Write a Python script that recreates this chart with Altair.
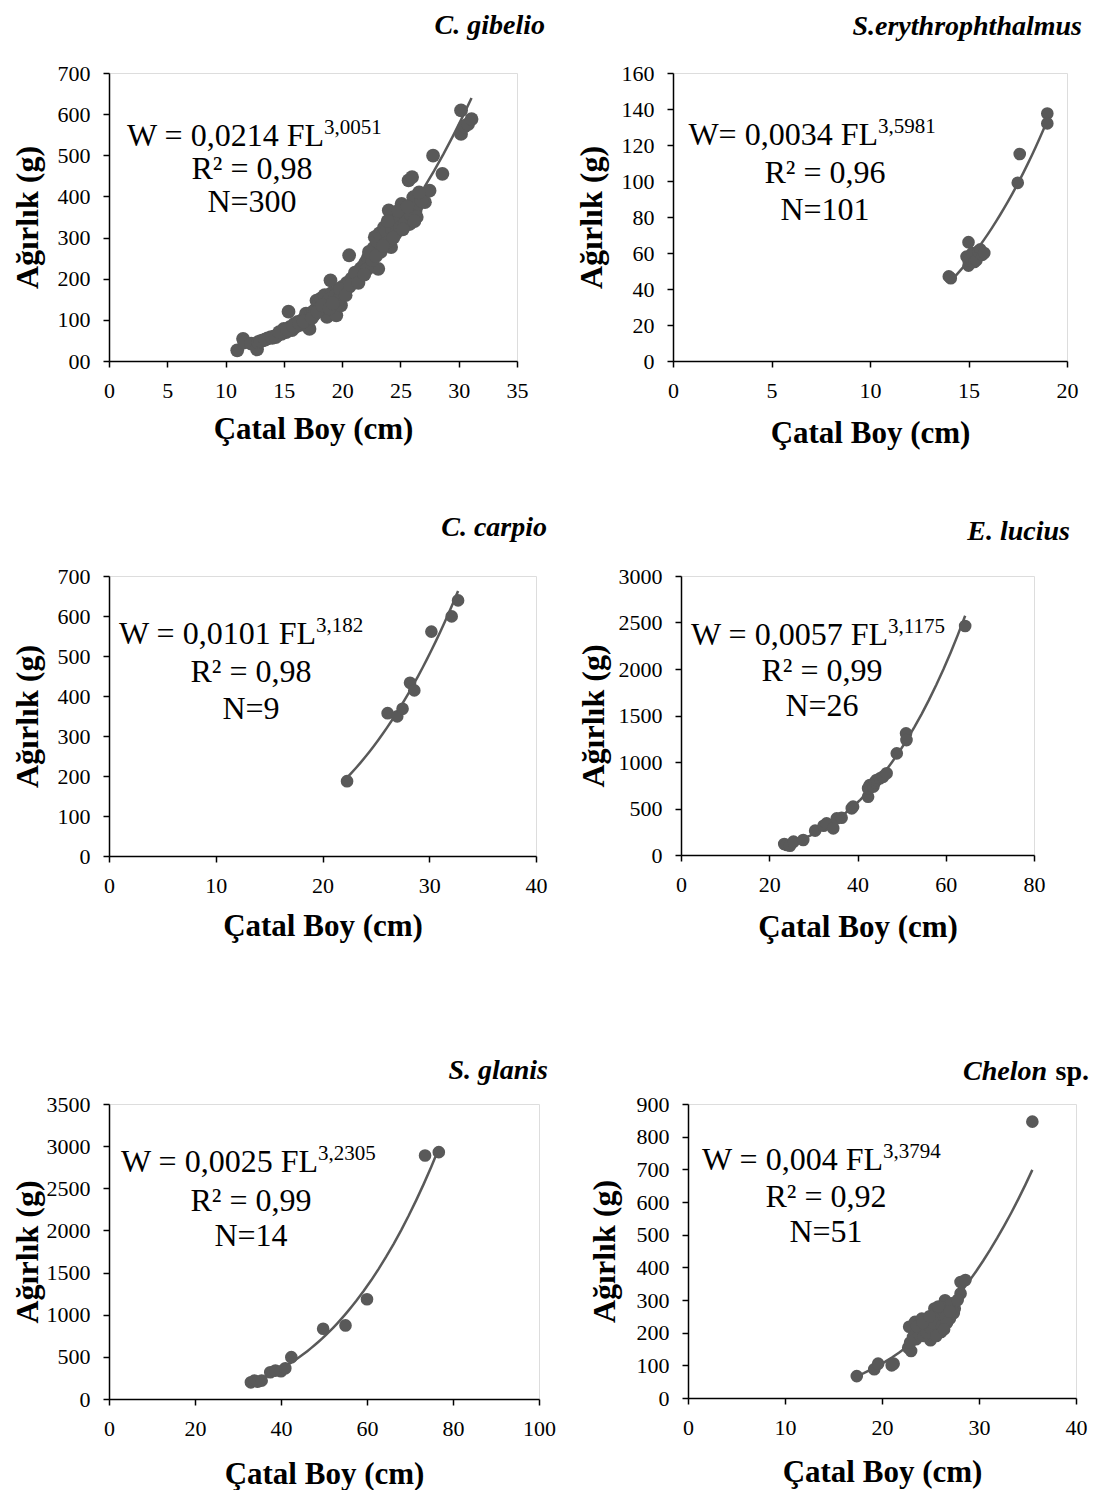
import altair as alt
import pandas as pd

FONT = "Liberation Serif"
GREY = "#595959"

# ---------------- data ----------------
GIB_L = [11.0, 11.5, 11.6, 12.2, 12.7, 12.8, 13.2, 13.6, 13.9, 14.2, 14.5, 14.8, 14.9, 15.0, 15.2,
         15.4, 15.5, 15.7, 15.9, 16.0, 16.2, 16.4, 16.6, 16.8, 16.9, 17.0, 17.2, 17.3, 17.5, 17.7,
         17.8, 18.0, 18.2, 18.4, 18.5, 18.7, 18.8, 19.0, 19.1, 19.3, 19.5, 19.6, 19.8, 19.9, 20.0,
         20.2, 20.4, 20.6, 20.6, 20.8, 21.0, 21.2, 21.5, 21.6, 21.8, 22.0, 22.2, 22.4, 22.5, 22.7,
         22.8, 23.0, 23.1, 23.2, 23.4, 23.6, 23.8, 24.0, 24.2, 24.3, 24.5, 24.7, 24.9, 25.1, 25.3,
         25.5, 25.7, 25.8, 26.0, 26.1, 26.3, 26.5, 27.1, 27.5, 27.8, 28.6, 30.2, 30.2, 30.5, 30.8,
         31.1,
         13.0, 13.4, 14.0, 14.4, 14.7, 15.1, 15.6, 16.1, 16.5, 17.1, 17.6, 18.1, 18.6, 18.9, 19.4,
         19.7, 20.1, 20.5, 20.9, 21.3, 21.7, 22.1, 22.6, 23.3, 23.7, 24.1, 24.6, 25.0, 25.4, 25.9,
         26.4, 26.8,
         14.3, 14.6, 15.3, 15.8, 16.3, 16.7, 17.4, 17.9, 18.3, 18.9, 19.2, 19.8, 20.3, 20.7, 21.1,
         21.4, 21.9, 22.3, 22.9, 23.5, 23.9, 24.4, 24.8, 25.2, 25.6, 26.2, 26.6]
GIB_W = [26, 54, 45, 42, 28, 46, 50, 55, 58, 60, 64, 66, 72, 78, 70,
         120, 82, 75, 90, 83, 95, 88, 100, 105, 115, 92, 78, 110, 120, 125,
         147, 140, 152, 130, 160, 107, 145, 196, 165, 150, 111, 170, 160, 135, 180,
         175, 190, 257, 180, 200, 195, 210, 204, 225, 230, 240, 250, 228, 260, 275,
         301, 290, 224, 310, 300, 325, 315, 366, 277, 320, 340, 330, 350, 382, 360,
         345, 439, 333, 447, 398, 366, 380, 386, 414, 499, 455, 609, 552, 570, 576,
         588,
         48, 52, 56, 62, 68, 74, 80, 86, 94, 98, 112, 128, 138, 150, 158,
         150, 168, 185, 192, 200, 215, 222, 245, 265, 285, 295, 310, 325, 335, 355,
         350, 390,
         58, 70, 76, 85, 92, 96, 104, 120, 135, 128, 140, 175, 160, 185, 215,
         190, 210, 265, 255, 280, 340, 300, 365, 320, 375, 340, 410]

ERY_L = [14.0, 14.1, 14.9, 15.0, 15.0, 15.0, 15.1, 15.2, 15.3, 15.4, 15.5, 15.6, 15.7, 15.8,
         17.5, 17.6, 19.0, 19.0]
ERY_W = [47, 46, 58, 66, 53, 56, 57, 60, 55, 56, 61, 62, 59, 60, 99, 115, 137.5, 132]

CAR_L = [22.3, 26.1, 27.0, 27.5, 28.2, 28.6, 30.2, 32.1, 32.7]
CAR_W = [187, 357, 349, 368, 433, 414, 561, 599, 639]

LUC_L = [23.4, 24.0, 24.7, 25.5, 27.7, 30.4, 32.3, 33.0, 34.5, 35.3, 36.4, 38.7, 39.0, 42.4,
         42.4, 42.8, 43.6, 44.0, 44.3, 45.1, 45.8, 46.6, 48.9, 51.0, 51.1, 64.4]
LUC_W = [118, 108, 100, 143, 161, 262, 315, 340, 287, 394, 401, 502, 520, 627,
         717, 753, 735, 785, 806, 824, 842, 878, 1093, 1308, 1236, 2462]

GLA_L = [33.0, 33.8, 34.6, 35.5, 37.5, 38.7, 40.0, 41.0, 42.4, 49.8, 55.0, 60.0, 73.5, 76.7]
GLA_W = [198, 218, 206, 218, 317, 337, 329, 365, 496, 833, 873, 1183, 2889, 2929]

CHE_L = [17.4, 19.2, 19.6, 21.2, 21.0, 22.7, 23.0, 22.8, 23.4, 23.2, 23.9, 24.1, 25.0, 25.4,
         25.9, 26.1, 26.5, 27.0, 27.5, 28.1, 28.1, 28.6, 35.5,
         24.5, 24.8, 25.2, 25.5, 25.7, 26.0, 26.3, 26.6, 26.8, 27.2, 23.5, 24.0, 24.3, 24.6,
         25.0, 25.3, 25.6, 26.2, 26.7, 27.4, 22.9, 23.6, 24.2, 24.9, 25.8, 26.4, 27.0, 27.8]
CHE_W = [67, 88, 105, 105, 100, 154, 144, 218, 233, 187, 202, 243, 177, 274,
         228, 202, 299, 243, 274, 320, 355, 361, 846,
         220, 230, 210, 250, 240, 260, 270, 250, 280, 290, 180, 210, 190, 200,
         215, 230, 190, 220, 230, 260, 170, 220, 230, 250, 280, 210, 265, 300]

SPECIES = ["C. gibelio", "S.erythrophthalmus", "C. carpio", "E. lucius", "S. glanis", "Chelon"]
EQ_MAIN = ["W = 0,0214 FL", "W= 0,0034 FL", "W = 0,0101 FL", "W = 0,0057 FL",
           "W = 0,0025 FL", "W = 0,004 FL"]
EQ_SUP = ["3,0051", "3,5981", "3,182", "3,1175", "3,2305", "3,3794"]
R2_TEXT = ["R² = 0,98", "R² = 0,96", "R² = 0,98", "R² = 0,99", "R² = 0,99", "R² = 0,92"]
N_TEXT = ["N=300", "N=101", "N=9", "N=26", "N=14", "N=51"]
X_TITLE = "Çatal Boy (cm)"
Y_TITLE = "Ağırlık (g)"


def text_layer(txt, x, y, size, align="left", weight="normal", style="normal"):
    return alt.Chart(pd.DataFrame({"t": [txt]})).mark_text(
        align=align, baseline="alphabetic", font=FONT, fontSize=size,
        fontWeight=weight, fontStyle=style, color="black"
    ).encode(x=alt.value(x), y=alt.value(y), text="t:N")


def panel(i, L, W, xmax, xstep, ymax, ystep, width, height,
          title_x, title_y, split_x, bases, center_x,
          ytp, xtp, yext, size=170, zero_label=None, extra_title=None):
    df = pd.DataFrame({"L": L, "W": W})
    common = dict(labelFont=FONT, labelFontSize=22, labelColor="black", labelPadding=13,
                  tickSize=6, tickColor="black", tickWidth=1.5, domainColor="black",
                  domainWidth=1.5, grid=False, format="d", labelFlush=False,
                  labelOverlap=False, titleFont=FONT, titleFontWeight="bold",
                  titleColor="black")
    xaxis = alt.Axis(values=list(range(0, xmax + 1, xstep)), title=X_TITLE,
                     titleFontSize=31, titlePadding=xtp, titleBaseline="alphabetic",
                     minExtent=40, maxExtent=40, **common)
    yargs = dict(common)
    if zero_label is not None:
        yargs["labelExpr"] = "datum.value == 0 ? '%s' : datum.label" % zero_label
    yaxis = alt.Axis(values=list(range(0, ymax + 1, ystep)), title=Y_TITLE,
                     titleFontSize=32, titlePadding=ytp, minExtent=yext, maxExtent=yext,
                     **yargs)
    x = alt.X("L:Q", scale=alt.Scale(domain=[0, xmax], nice=False, zero=True), axis=xaxis)
    y = alt.Y("W:Q", scale=alt.Scale(domain=[0, ymax], nice=False, zero=True), axis=yaxis)
    pts = alt.Chart(df).mark_circle(size=size, color=GREY, opacity=1).encode(x=x, y=y)
    fit = alt.Chart(df).transform_regression("L", "W", method="pow").mark_line(
        color=GREY, strokeWidth=2.5).encode(x=x, y=y)
    layers = [fit, pts,
              text_layer(EQ_MAIN[i], split_x, bases[0], 32, align="right"),
              text_layer(EQ_SUP[i], split_x, bases[0] - 12, 21, align="left"),
              text_layer(R2_TEXT[i], center_x, bases[1], 32, align="center"),
              text_layer(N_TEXT[i], center_x, bases[2], 32, align="center")]
    if extra_title is None:
        layers.append(text_layer(SPECIES[i], title_x, title_y, 28, align="right",
                                 weight="bold", style="italic"))
    else:
        layers.append(text_layer(extra_title, title_x, title_y, 28, align="right",
                                 weight="bold"))
        layers.append(text_layer(SPECIES[i], title_x - 42, title_y, 28, align="right",
                                 weight="bold", style="italic"))
    return alt.layer(*layers).properties(width=width, height=height)


p1 = panel(0, GIB_L, GIB_W, 35, 5, 700, 100, 408, 288, 436, -39, 215, [73, 106, 139], 143,
           ytp=13, xtp=37, yext=52, size=190, zero_label="00")
p2 = panel(1, ERY_L, ERY_W, 20, 5, 160, 20, 394, 288, 409, -38, 205, [72, 110, 147], 152,
           ytp=13, xtp=41, yext=52, size=160)
p3 = panel(2, CAR_L, CAR_W, 40, 10, 700, 100, 427, 280, 438, -40, 207, [68, 106, 143], 142,
           ytp=13, xtp=39, yext=52, size=160)
p4 = panel(3, LUC_L, LUC_W, 80, 20, 3000, 500, 353, 279, 389, -36, 207, [69, 105, 140], 141,
           ytp=8, xtp=41, yext=63, size=160)
p5 = panel(4, GLA_L, GLA_W, 100, 20, 3500, 500, 430, 295, 439, -25, 209, [68, 107, 142], 142,
           ytp=2, xtp=44, yext=63, size=160)
p6 = panel(5, CHE_L, CHE_W, 40, 10, 900, 100, 388, 294, 401, -24, 195, [66, 103, 138], 138,
           ytp=15, xtp=43, yext=52, size=160, extra_title="sp.")

row1 = alt.hconcat(p1, p2, spacing=28)
row2 = alt.hconcat(p3, p4, spacing=28)
row3 = alt.hconcat(p5, p6, spacing=31)

chart = alt.vconcat(alt.vconcat(row1, row2, spacing=64), row3, spacing=113).properties(
    padding={"left": 2, "top": 3, "right": 0, "bottom": 0}
).configure_view(stroke="transparent", strokeWidth=0).configure(background="white")

chart.save("out.html", embed_options={"renderer": "svg", "actions": False})
